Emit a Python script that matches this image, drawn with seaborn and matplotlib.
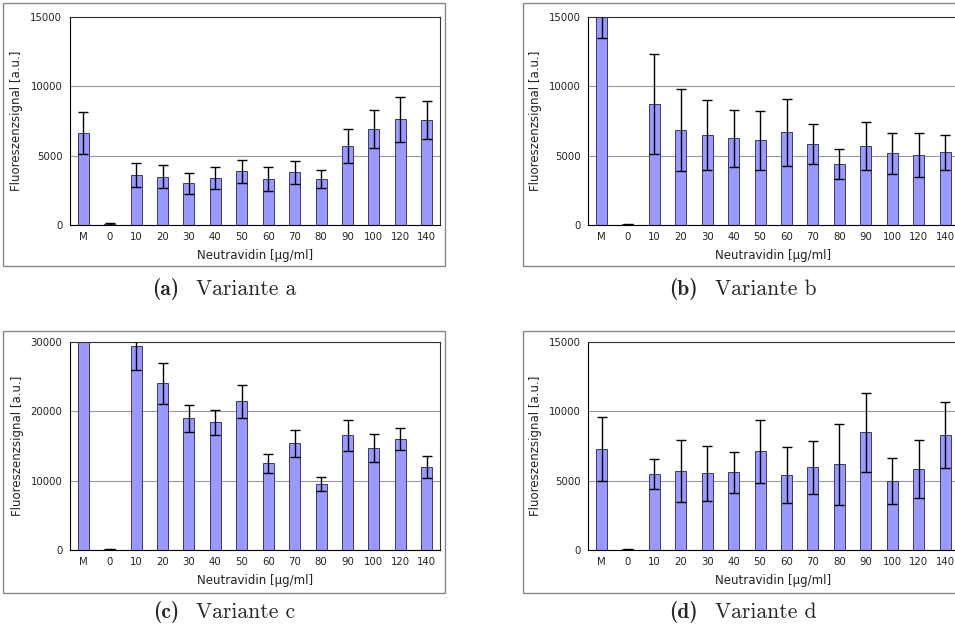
import numpy as np
import pandas as pd
import matplotlib
matplotlib.use('Agg')
import matplotlib.pyplot as plt
import seaborn as sns
from matplotlib.patches import Rectangle

categories = ['M', '0', '10', '20', '30', '40', '50', '60', '70', '80', '90', '100', '120', '140']

values_a = [6650, 80, 3580, 3480, 3000, 3360, 3870, 3290, 3790, 3290, 5670, 6890, 7610, 7540]
errors_a = [1510, 90, 850, 840, 780, 800, 830, 870, 830, 650, 1240, 1370, 1600, 1380]

values_b = [16500, 50, 8710, 6820, 6460, 6240, 6100, 6670, 5830, 4390, 5670, 5160, 5040, 5230]
errors_b = [3000, 30, 3590, 2960, 2520, 2040, 2130, 2410, 1470, 1110, 1730, 1490, 1610, 1260]

values_c = [33000, 100, 29430, 24000, 18960, 18380, 21410, 12480, 15360, 9460, 16510, 14690, 15940, 11950]
errors_c = [2000, 60, 3460, 2980, 1970, 1850, 2350, 1320, 1970, 990, 2180, 1950, 1590, 1630]

values_d = [7270, 50, 5450, 5690, 5520, 5590, 7100, 5380, 5950, 6170, 8470, 4970, 5830, 8300]
errors_d = [2290, 30, 1070, 2230, 2000, 1500, 2240, 2030, 1930, 2900, 2850, 1630, 2060, 2390]

y_max = {'a': 15000, 'b': 15000, 'c': 30000, 'd': 15000}
captions = {'a': 'Variante a', 'b': 'Variante b', 'c': 'Variante c', 'd': 'Variante d'}

W, H = 955, 626


def px_box(left, top, right, bottom):
    return [left / W, 1 - bottom / H, (right - left) / W, (bottom - top) / H]


def plot_panel(fig, pos, values, errors, ymax):
    ax = fig.add_axes(pos)
    df = pd.DataFrame({'conc': categories, 'signal': values})
    sns.barplot(data=df, x='conc', y='signal', color='#9999ff', saturation=1,
                width=0.42, edgecolor='#3a3a6e', linewidth=0.7, errorbar=None, ax=ax)
    ax.errorbar(np.arange(len(categories)), values, yerr=errors, fmt='none',
                ecolor='black', elinewidth=1.0, capsize=3.3, capthick=1.0, zorder=4)
    ax.set_ylim(0, ymax)
    ax.set_xlim(-0.5, len(categories) - 0.5)
    ticks = np.arange(0, ymax + 1, ymax / 3)
    ax.set_yticks(ticks)
    ax.set_yticklabels([f'{int(v)}' for v in ticks])
    ax.set_xticks(np.arange(len(categories)))
    ax.set_xticklabels(categories)
    ax.set_xticks(np.arange(len(categories) + 1) - 0.5, minor=True)
    ax.tick_params(axis='x', which='major', length=0, pad=5, labelsize=7.3, labelcolor='#222222')
    ax.tick_params(axis='x', which='minor', length=3.5, width=0.6, color='#444444')
    ax.tick_params(axis='y', length=3.5, width=0.6, pad=2, labelsize=7.3, labelcolor='#222222')
    ax.yaxis.grid(True, color='#999999', linewidth=0.8)
    ax.set_axisbelow(True)
    for s in ['left', 'bottom']:
        ax.spines[s].set_color('black')
        ax.spines[s].set_linewidth(0.8)
    for s in ['top', 'right']:
        ax.spines[s].set_color('#333333')
        ax.spines[s].set_linewidth(0.8)
    ax.set_xlabel('Neutravidin [µg/ml]', fontsize=8.5, color='#222222', labelpad=5)
    ax.set_ylabel('Fluoreszenzsignal [a.u.]', fontsize=8.5, color='#222222', labelpad=5)
    return ax


def add_caption(fig, x_split, y, letter, text):
    fig.text(x_split / W, 1 - y / H, f'({letter})', fontfamily='cmb10', fontsize=15.5,
             ha='right', va='center')
    fig.text((x_split + 17) / W, 1 - y / H, text, fontfamily='cmr10', fontsize=15.5,
             ha='left', va='center')


sns.set_theme(style='white')
plt.rcParams['font.family'] = ['DejaVu Sans']

fig = plt.figure(figsize=(W / 100, H / 100), dpi=100)

frames = [(3, 3, 445, 266), (523, 3, 1000, 266), (3, 331, 445, 593), (523, 331, 1000, 593)]
for l, t, r, b in frames:
    fig.patches.append(Rectangle((l / W, 1 - b / H), (r - l) / W, (b - t) / H,
                                 transform=fig.transFigure, fill=False,
                                 edgecolor='#888888', linewidth=1.0))

plot_panel(fig, px_box(70, 16.7, 440, 225), values_a, errors_a, y_max['a'])
plot_panel(fig, px_box(588.3, 16.7, 958.3, 225), values_b, errors_b, y_max['b'])
plot_panel(fig, px_box(70, 341.7, 440, 550), values_c, errors_c, y_max['c'])
plot_panel(fig, px_box(588.3, 341.7, 958.3, 550), values_d, errors_d, y_max['d'])

add_caption(fig, 179, 289, 'a', captions['a'])
add_caption(fig, 698, 289, 'b', captions['b'])
add_caption(fig, 179, 612, 'c', captions['c'])
add_caption(fig, 698, 612, 'd', captions['d'])

fig.savefig('out.png', dpi=100)
